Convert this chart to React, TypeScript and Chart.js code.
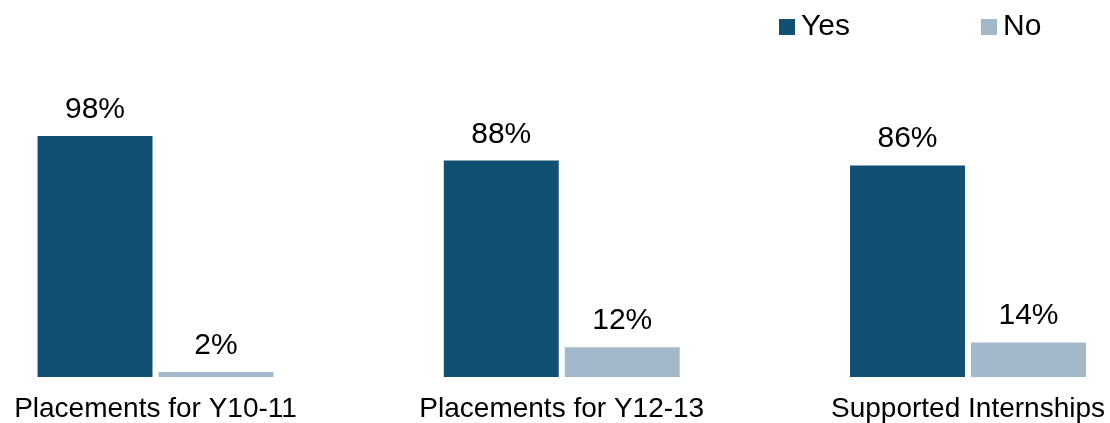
import React, { useEffect, useRef } from "react";
import { Chart, registerables } from "chart.js";

Chart.register(...registerables);

const categories = ["Placements for Y10-11", "Placements for Y12-13", "Supported Internships"];
const seriesNames = ["Yes", "No"];
const yesValues = [98, 88, 86];
const noValues = [2, 12, 14];
const colors = ["#114F73", "#A3B9C9"];

const FONT = "'Liberation Sans', Arial, sans-serif";

const valueLabels = {
  id: "valueLabels",
  afterDatasetsDraw(chart: any) {
    const ctx = chart.ctx;
    ctx.save();
    ctx.font = `30px ${FONT}`;
    ctx.fillStyle = "#000000";
    ctx.textAlign = "center";
    ctx.textBaseline = "alphabetic";
    chart.data.datasets.forEach((ds: any, di: number) => {
      const meta = chart.getDatasetMeta(di);
      meta.data.forEach((bar: any, i: number) => {
        const v = ds.data[i].y;
        ctx.fillText(`${v}%`, bar.x, bar.y - 18);
      });
    });
    ctx.restore();
  },
};

const customLegend = {
  id: "customLegend",
  afterDraw(chart: any) {
    const ctx = chart.ctx;
    const itemX = [779, 981];
    ctx.save();
    ctx.font = `30px ${FONT}`;
    ctx.textBaseline = "middle";
    ctx.textAlign = "left";
    chart.data.datasets.forEach((ds: any, i: number) => {
      ctx.fillStyle = ds.backgroundColor;
      ctx.fillRect(itemX[i], 19, 16, 16);
      ctx.fillStyle = "#000000";
      ctx.fillText(ds.label, itemX[i] + 22, 27);
    });
    ctx.restore();
  },
};

export default function App() {
  const ref = useRef<HTMLCanvasElement>(null);
  useEffect(() => {
    if (!ref.current) return;
    const chart = new Chart(ref.current, {
      type: "bar",
      data: {
        datasets: [
          {
            label: seriesNames[0],
            data: yesValues.map((v, i) => ({ x: i, y: v })),
            backgroundColor: colors[0],
            categoryPercentage: 0.5957,
            barPercentage: 0.95,
          },
          {
            label: seriesNames[1],
            data: noValues.map((v, i) => ({ x: i, y: v })),
            backgroundColor: colors[1],
            categoryPercentage: 0.5957,
            barPercentage: 0.95,
          },
        ],
      },
      options: {
        animation: false,
        responsive: false,
        maintainAspectRatio: false,
        layout: { padding: { top: 131, left: 0, right: 0, bottom: 0 } },
        plugins: {
          legend: { display: false },
          tooltip: { enabled: false },
        },
        scales: {
          x: {
            type: "linear",
            offset: false,
            bounds: "data",
            min: -0.3828,
            max: 2.3495,
            grid: { display: false, drawTicks: false, offset: false },
            border: { display: false },
            afterBuildTicks: (scale: any) => {
              scale.ticks = categories.map((_, i) => ({ value: i }));
            },
            ticks: {
              autoSkip: false,
              maxRotation: 0,
              padding: 0,
              color: "#000000",
              font: { family: FONT, size: 28, lineHeight: 2.29 },
              callback: (value: any) => categories[value as number] ?? "",
            },
          },
          y: {
            display: false,
            min: 0,
            max: 100,
          },
        },
      },
      plugins: [valueLabels, customLegend],
    });
    return () => chart.destroy();
  }, []);

  return (
    <div
      style={{
        position: "fixed",
        left: 0,
        top: 0,
        width: 1110,
        height: 423,
        overflow: "hidden",
        background: "#ffffff",
      }}
    >
      <canvas ref={ref} width={1110} height={441} style={{ display: "block" }} />
    </div>
  );
}
